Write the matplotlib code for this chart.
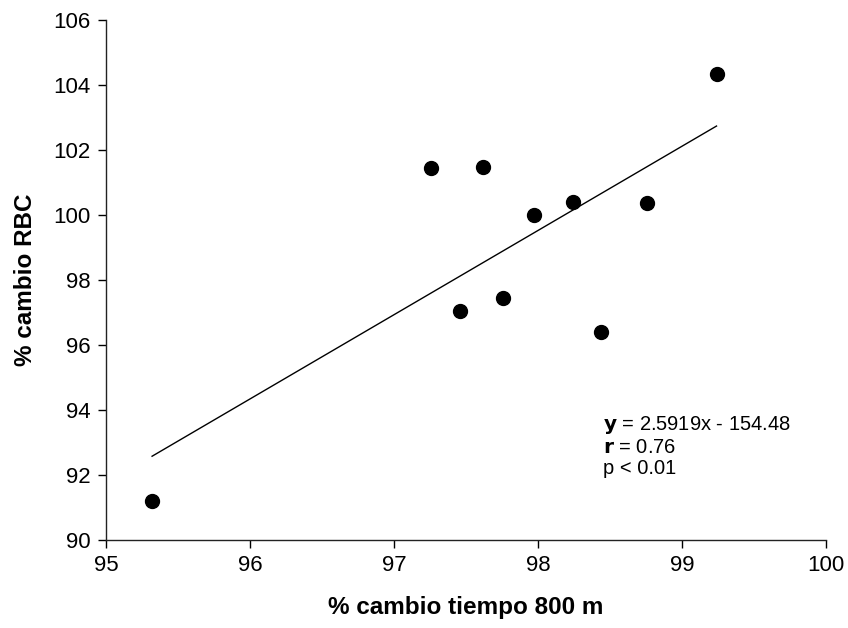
import numpy as np
import matplotlib.pyplot as plt

plt.rcParams['font.family'] = ['Liberation Sans', 'DejaVu Sans']

tiempo = np.array([95.32, 97.26, 97.62, 97.46, 97.76, 97.97, 98.24, 98.44, 98.76, 99.24])
rbc = np.array([91.2, 101.45, 101.48, 97.05, 97.45, 100.0, 100.4, 96.4, 100.37, 104.34])
slope = 2.5919
intercept = -154.48

fig = plt.figure(figsize=(8.48, 6.28), dpi=100)
ax = fig.add_axes([0.125, 0.140, 0.849, 0.828])

ax.scatter(tiempo, rbc, s=100, color='black', zorder=3)
xfit = np.array([tiempo.min(), tiempo.max()])
ax.plot(xfit, slope * xfit + intercept, color='black', lw=1)

ax.set_xlim(95, 100)
ax.set_ylim(90, 106)
ax.set_xticks(np.arange(95, 101, 1))
ax.set_yticks(np.arange(90, 107, 2))
ax.tick_params(direction='out', length=6, width=1, labelsize=16, pad=5)
for s in ['top', 'right']:
    ax.spines[s].set_visible(False)
for s in ['left', 'bottom']:
    ax.spines[s].set_linewidth(1)
    ax.spines[s].set_color('#222222')

ax.set_xlabel('% cambio tiempo 800 m', fontsize=17.5, fontweight='bold', labelpad=14)
ax.set_ylabel('% cambio RBC', fontsize=17.5, fontweight='bold', labelpad=12)

ax.text(0.69, 0.243, r'$\mathbf{y}$ = 2.5919x - 154.48' + '\n' + r'$\mathbf{r}$ = 0.76' + '\n' + 'p < 0.01',
        transform=ax.transAxes, fontsize=14.5, va='top', ha='left', linespacing=1.15)

fig.savefig('out.png', dpi=100)
